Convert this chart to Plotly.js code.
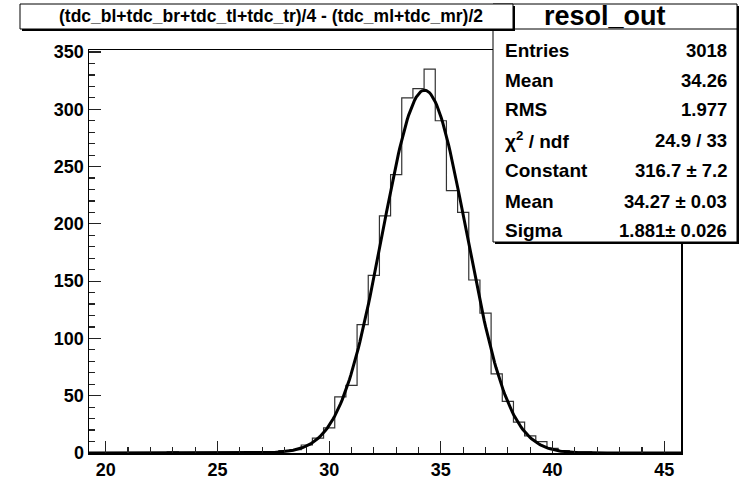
<!DOCTYPE html>
<html>
<head>
<meta charset="utf-8">
<script src="https://cdn.plot.ly/plotly-3.0.1.min.js"></script>
<style>html,body{margin:0;padding:0;background:#fff;}#chart{width:741px;height:500px;}</style>
</head>
<body>
<div id="chart"></div>
<script>
// ---- Data ----
const binCenters = [19.5,20,20.5,21,21.5,22,22.5,23,23.5,24,24.5,25,25.5,26,26.5,27,27.5,28,28.5,29,29.5,30,30.5,31,31.5,32,32.5,33,33.5,34,34.5,35,35.5,36,36.5,37,37.5,38,38.5,39,39.5,40,40.5,41,41.5,42,42.5,43,43.5,44,44.5,45,45.5];
const binCounts  = [0,0,0,0,0,0,0,1,0,0,0,0,0,0,0,0,1,2,3,7,13,22,49,59,112,155,207,243,310,318,335,290,229,210,151,122,69,45,27,15,10,4,2,1,1,0,0,0,0,0,0,0,0];
const binWidth = 0.5;
const histName = "resol_out";
const histTitle = "(tdc_bl+tdc_br+tdc_tl+tdc_tr)/4 - (tdc_ml+tdc_mr)/2";
const statLabels = ["Entries","Mean","RMS","χ<sup>2</sup> / ndf","Constant","Mean","Sigma"];
const statValues = ["3018","34.26","1.977","24.9 / 33","316.7 ± 7.2","34.27 ± 0.03","1.881± 0.026"];
const fitConstant = 316.7, fitMean = 34.27, fitSigma = 1.881;
const xRange = [19.25, 45.75];
const yRange = [0, 351.75];

// ---- Step outline of histogram ----
const stepX = [], stepY = [];
for (let i = 0; i < binCenters.length; i++) { stepX.push(binCenters[i] - binWidth/2); stepY.push(binCounts[i]); }
stepX.push(binCenters[binCenters.length-1] + binWidth/2); stepY.push(binCounts[binCounts.length-1]);

// ---- Gaussian fit curve evaluated from fit parameters ----
const fitX = [], fitY = [];
const nPts = 400;
for (let i = 0; i <= nPts; i++) {
  const x = xRange[0] + (xRange[1]-xRange[0]) * i / nPts;
  fitX.push(x);
  fitY.push(fitConstant * Math.exp(-0.5 * Math.pow((x - fitMean)/fitSigma, 2)));
}

// ---- layout helpers (pixel -> paper) ----
const W = 741, H = 500, ML = 89, MR = 60, MT = 50, MB = 47;
const PW = W - ML - MR, PH = H - MT - MB;
const px = x => (x - ML) / PW;
const py = y => (H - MB - y) / PH;

const FONT = "Liberation Sans, Arial, sans-serif";

const shapes = [
  // stats box shadow + box
  {type:'rect', xref:'paper', yref:'paper', x0:px(495), x1:px(739), y0:py(244), y1:py(4+2), fillcolor:'#000', line:{width:0}},
  {type:'rect', xref:'paper', yref:'paper', x0:px(493), x1:px(737), y0:py(242), y1:py(4), fillcolor:'#fff', line:{color:'#000', width:1}},
  {type:'line', xref:'paper', yref:'paper', x0:px(493), x1:px(737), y0:py(29), y1:py(29), line:{color:'#000', width:1}},
  // title box shadow + box
  {type:'rect', xref:'paper', yref:'paper', x0:px(22), x1:px(515), y0:py(31), y1:py(6), fillcolor:'#000', line:{width:0}},
  {type:'rect', xref:'paper', yref:'paper', x0:px(20), x1:px(513), y0:py(29), y1:py(4), fillcolor:'#fff', line:{color:'#000', width:1}}
];

const annotations = [
  {xref:'paper', yref:'paper', x:px(271), y:py(16.5), text:'<b>'+histTitle+'</b>', showarrow:false, xanchor:'center', yanchor:'middle', font:{family:FONT, size:17.5, color:'#000'}},
  {xref:'paper', yref:'paper', x:px(605), y:py(16), text:'<b>'+histName+'</b>', showarrow:false, xanchor:'center', yanchor:'middle', font:{family:FONT, size:27, color:'#000'}}
];
const rowY = [50, 80.5, 110, 140, 170.5, 201, 230];
for (let i = 0; i < statLabels.length; i++) {
  annotations.push({xref:'paper', yref:'paper', x:px(503), y:py(rowY[i]), text:'<b>'+statLabels[i]+'</b>', showarrow:false, xanchor:'left', yanchor:'middle', font:{family:FONT, size:19, color:'#000'}});
  annotations.push({xref:'paper', yref:'paper', x:px(729), y:py(rowY[i]), text:'<b>'+statValues[i]+'</b>', showarrow:false, xanchor:'right', yanchor:'middle', font:{family:FONT, size:18.5, color:'#000'}});
}

const traces = [
  {x: stepX, y: stepY, type:'scatter', mode:'lines', line:{shape:'hv', color:'#333', width:1.2}, hoverinfo:'skip'},
  {x: fitX, y: fitY, type:'scatter', mode:'lines', line:{color:'#000', width:3}, hoverinfo:'skip'}
];

const layout = {
  width: W, height: H,
  margin: {l: ML, r: MR, t: MT, b: MB, pad: 0},
  paper_bgcolor:'#fff', plot_bgcolor:'#fff',
  showlegend:false,
  xaxis: {
    range: xRange, showgrid:false, zeroline:false,
    showline:true, linecolor:'#000', linewidth:1.5, mirror:true,
    ticks:'inside', ticklen:12, tickwidth:1.2, tickcolor:'#222',
    tick0:20, dtick:5,
    minor:{ticks:'inside', ticklen:6, tickwidth:1.2, tickcolor:'#222', dtick:1, tick0:20, showgrid:false},
    tickfont:{family:FONT, size:18, color:'#000', weight:'bold'}
  },
  yaxis: {
    range: yRange, showgrid:false, zeroline:false,
    showline:true, linecolor:'#000', linewidth:1.5, mirror:true,
    ticks:'inside', ticklen:12, tickwidth:1.2, tickcolor:'#222',
    tick0:0, dtick:50,
    minor:{ticks:'inside', ticklen:6, tickwidth:1.2, tickcolor:'#222', dtick:10, tick0:0, showgrid:false},
    tickfont:{family:FONT, size:18, color:'#000', weight:'bold'}
  },
  shapes: shapes,
  annotations: annotations
};

Plotly.newPlot('chart', traces, layout, {displayModeBar:false, staticPlot:true});
</script>
</body>
</html>
